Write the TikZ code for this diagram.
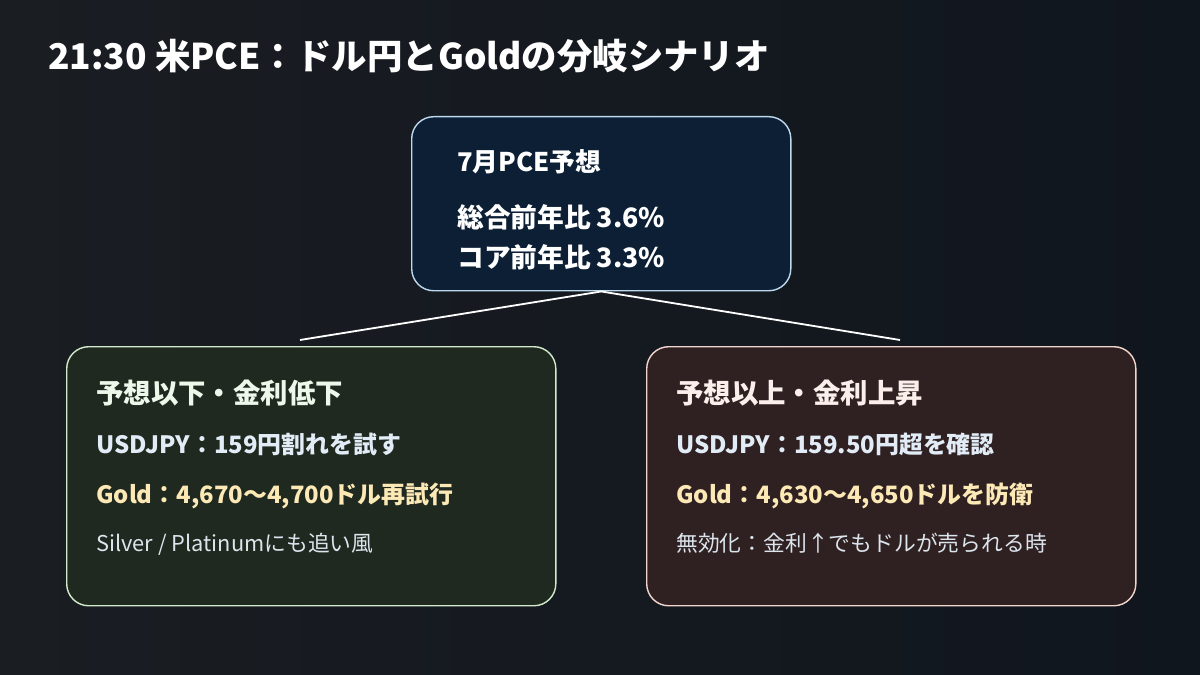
\documentclass[tikz,border=0pt]{standalone}
\usepackage{fontspec}
\setmainfont{Noto Sans CJK JP}
\usetikzlibrary{positioning}
\definecolor{bgleft}{HTML}{1A1D22}
\definecolor{bgright}{HTML}{10161E}
\definecolor{pcefill}{HTML}{0C1F35}
\definecolor{pcedraw}{HTML}{BCD9EE}
\definecolor{lowfill}{HTML}{1F2920}
\definecolor{lowdraw}{HTML}{D2EACB}
\definecolor{highfill}{HTML}{2F2122}
\definecolor{highdraw}{HTML}{F2D6CE}
\definecolor{usdtext}{HTML}{E2ECF6}
\definecolor{goldtext}{HTML}{FDE9B5}
\definecolor{notetext}{HTML}{DCE4EC}
\begin{document}
\begin{tikzpicture}[x=0.025cm,y=-0.025cm,
box/.style ={draw, rounded corners=0.55cm, line width=1pt, anchor=north west, inner sep=0pt},
txt/.style ={anchor=base west, inner sep=0pt, font=\fontsize{17pt}{20pt}\selectfont\bfseries},
head/.style ={txt, font=\fontsize{19.5pt}{23pt}\selectfont\bfseries},
note/.style ={txt, font=\fontsize{15.5pt}{18pt}\selectfont, text=notetext},
branch/.style ={draw=white, line width=1.3pt}]
\useasboundingbox (0,0) rectangle (1200,675);
\shade[left color=bgleft, right color=bgright] (0,0) rectangle (1200,675);

\node[txt, text=white, font=\fontsize{25.2pt}{29pt}\selectfont\bfseries] (title) at (48,70) {21:30 米PCE：ドル円とGoldの分岐シナリオ};

\node[box, fill=pcefill, draw=pcedraw, minimum width=9.475cm, minimum height=4.35cm] (pce) at (411,116) {};
\node[txt, text=white, font=\fontsize{18.3pt}{21pt}\selectfont\bfseries] (pcehead) at (457,172) {7月PCE予想};
\node[txt, text=white, font=\fontsize{19pt}{22pt}\selectfont\bfseries] (pcetotal) at (457,227) {総合前年比 3.6\%};
\node[txt, text=white, font=\fontsize{19pt}{22pt}\selectfont\bfseries] (pcecore) at (457,267) {コア前年比 3.3\%};

\node[box, fill=lowfill, draw=lowdraw, minimum width=12.225cm, minimum height=6.475cm] (low) at (66,346) {};
\node[head, text=lowdraw!40!white] (lowhead) at (96,403) {予想以下・金利低下};
\node[txt, text=usdtext] (lowusd) at (96,453) {USDJPY：159円割れを試す};
\node[txt, text=goldtext] (lowgold) at (96,503) {Gold：4,670〜4,700ドル再試行};
\node[note] (lownote) at (96,551) {Silver / Platinumにも追い風};

\node[box, fill=highfill, draw=highdraw, minimum width=12.225cm, minimum height=6.475cm] (high) at (646,346) {};
\node[head, text=highdraw!40!white] (highhead) at (676,403) {予想以上・金利上昇};
\node[txt, text=usdtext] (highusd) at (676,453) {USDJPY：159.50円超を確認};
\node[txt, text=goldtext] (highgold) at (676,503) {Gold：4,630〜4,650ドルを防衛};
\node[note] (highnote) at (676,551) {無効化：金利↑でもドルが売られる時};

\coordinate (lowend) at (300,340);
\coordinate (highend) at (900,340);
\draw[branch] (lowend) -- (pce.south) -- (highend);
\end{tikzpicture}
\end{document}
